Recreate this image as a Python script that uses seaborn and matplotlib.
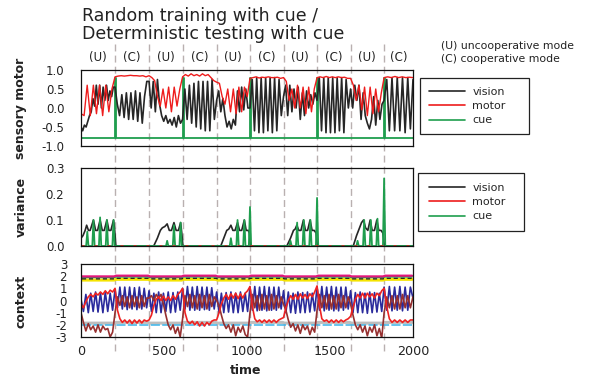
import numpy as np
import matplotlib
matplotlib.use("Agg")
import matplotlib.pyplot as plt
import matplotlib.transforms as mtransforms
from matplotlib.lines import Line2D
from matplotlib.patches import Rectangle
import seaborn as sns

# ------------------------------------------------------------------ data
seg_edges = [0, 205, 410, 612, 817, 1018, 1220, 1422, 1624, 1826, 2000]
seg_modes = ["U", "C", "U", "C", "U", "C", "U", "C", "U", "C"]

# sensory-motor panel: values read at evenly spaced knots inside each segment
vision_segs = [
    [-0.5, -0.6, -0.45, -0.5, -0.35, -0.2, -0.1, 0.25, 0.05, 0.6, 0.1, 0.6, 0.0, 0.55, 0.2, 0.6, 0.2, 0.45, 0.3, 0.55],
    [0.55, 0.1, -0.2, 0.35, -0.25, 0.4, -0.3, 0.4, -0.3, 0.45, -0.35, 0.4, -0.4, 0.3, 0.7],
    [0.7, 0.0, 0.7, -0.1, 0.75, 0.1, -0.2, -0.35, -0.2, -0.4, -0.3, -0.45, -0.25, -0.5, -0.2, -0.4],
    [-0.3, 0.5, -0.3, 0.6, -0.4, 0.65, -0.5, 0.7, -0.55, 0.7, -0.6, 0.7, -0.6, 0.75, -0.3],
    [0.2, 0.45, -0.1, 0.25, -0.2, -0.5, -0.35, -0.55, -0.3, -0.45, 0.45, -0.1, 0.55, -0.05, 0.5, 0.0],
    [0.0, 0.75, -0.6, 0.8, -0.65, 0.8, -0.65, 0.8, -0.6, 0.8, -0.65, 0.8, -0.6, 0.75, -0.2],
    [0.3, 0.6, -0.2, 0.6, -0.1, 0.5, 0.0, 0.55, -0.3, 0.4, -0.2, 0.45, 0.0, 0.35, 0.1, 0.4],
    [0.2, 0.8, -0.6, 0.8, -0.65, 0.8, -0.65, 0.8, -0.65, 0.8, -0.6, 0.8, -0.65, 0.75, 0.0],
    [0.5, 0.0, 0.6, 0.2, 0.6, -0.3, 0.4, -0.2, -0.4, -0.55, -0.3, 0.3, -0.45, 0.2, -0.3, 0.1],
    [0.2, 0.75, -0.6, 0.8, -0.6, 0.8, -0.6, 0.8, -0.65, 0.8, -0.55, 0.75],
]
motor_segs = [
    [-0.15, -0.2, 0.6, -0.2, 0.6, -0.15, 0.6, -0.2, 0.6, -0.1, 0.5],
    [0.82, 0.84, 0.85, 0.84, 0.85, 0.86, 0.85, 0.85, 0.84, 0.85, 0.82],
    [0.85, 0.8, 0.72, 0.3, 0.05, 0.5, 0.0, 0.55, -0.1, 0.55, 0.05, 0.5],
    [0.82, 0.88, 0.84, 0.9, 0.85, 0.88, 0.84, 0.9, 0.85, 0.88, 0.8, 0.72],
    [0.68, 0.65, 0.3, 0.1, 0.5, -0.1, 0.5, -0.15, 0.55, -0.1, 0.55, 0.3],
    [0.78, 0.8, 0.82, 0.79, 0.81, 0.8, 0.82, 0.8, 0.8, 0.81, 0.78],
    [0.8, 0.7, 0.2, 0.5, 0.0, 0.6, 0.0, 0.55, -0.15, 0.55, -0.1, 0.5],
    [0.8, 0.82, 0.8, 0.83, 0.8, 0.82, 0.8, 0.82, 0.8, 0.81, 0.78],
    [0.78, 0.6, 0.2, 0.6, -0.05, 0.55, -0.2, 0.55, -0.15, 0.5, -0.1, 0.4],
    [0.8, 0.82, 0.8, 0.83, 0.8, 0.82, 0.8, 0.81, 0.8],
]
cue_low, cue_high = -0.8, 0.8
cue_pulse_start = [205, 612, 1018, 1422, 1826]
cue_pulse_len = 8

# variance panel
var_vision_t = [0, 12, 25, 34, 45, 55, 75, 88, 100, 115, 128, 140, 156, 168, 180, 196, 203, 210,
                438, 460, 478, 490, 505, 519, 532, 545, 560, 573, 587, 600, 607, 614,
                842, 860, 878, 890, 903, 915, 928, 943, 955, 968, 984, 995, 1008, 1014, 1020,
                1240, 1262, 1280, 1290, 1300, 1312, 1325, 1340, 1352, 1365, 1380, 1392, 1405, 1416, 1424,
                1640, 1660, 1678, 1690, 1702, 1714, 1728, 1742, 1754, 1768, 1782, 1794, 1808, 1818, 1828, 2000]
var_vision_v = [0.03, 0.04, 0.06, 0.08, 0.06, 0.06, 0.1, 0.06, 0.06, 0.1, 0.06, 0.06, 0.1, 0.06, 0.06, 0.1, 0.06, 0.0,
                0.0, 0.03, 0.06, 0.07, 0.075, 0.085, 0.06, 0.06, 0.09, 0.06, 0.06, 0.09, 0.05, 0.0,
                0.0, 0.03, 0.06, 0.065, 0.08, 0.06, 0.06, 0.09, 0.06, 0.06, 0.1, 0.06, 0.06, 0.05, 0.0,
                0.0, 0.03, 0.06, 0.065, 0.08, 0.06, 0.06, 0.1, 0.06, 0.06, 0.1, 0.06, 0.06, 0.05, 0.0,
                0.0, 0.04, 0.07, 0.09, 0.1, 0.07, 0.06, 0.1, 0.06, 0.06, 0.1, 0.06, 0.06, 0.05, 0.0, 0.0]
var_cue_peak_t = [38, 75, 115, 156, 196, 519, 560, 600, 903, 943, 984, 1018,
                  1262, 1302, 1342, 1382, 1422, 1666, 1706, 1746, 1786, 1826]
var_cue_peak_v = [0.055, 0.1, 0.11, 0.1, 0.1, 0.02, 0.08, 0.09, 0.03, 0.1, 0.1, 0.15,
                  0.02, 0.09, 0.1, 0.1, 0.185, 0.02, 0.1, 0.1, 0.105, 0.26]
var_cue_halfwidth = 7
var_motor_t = [0, 2000]
var_motor_v = [0.0, 0.0]

# context panel
ctx_blue_segs = [
    [0.1, -0.9, 0.5, -1.0, 0.6, -0.9, 0.7, -0.95, 0.65, -1.0, 0.7, -0.9, 0.6, -0.8],
    [0.9, -0.6, 1.1, -0.7, 1.1, -0.75, 1.1, -0.7, 1.05, -0.75, 1.1, -0.7, 1.0, -0.6],
    [0.8, -0.9, 0.6, -1.0, 0.7, -1.0, 0.6, -0.9, 0.7, -1.0, 0.65, -0.95, 0.7, -0.8],
    [1.0, -0.7, 1.15, -0.8, 1.1, -0.8, 1.15, -0.8, 1.1, -0.75, 1.1, -0.8, 1.05, -0.7],
    [0.7, -1.0, 0.6, -1.0, 0.65, -0.95, 0.7, -1.0, 0.6, -1.0, 0.7, -0.9, 0.6, -0.9],
    [1.1, -0.8, 1.15, -0.85, 1.1, -0.8, 1.15, -0.85, 1.1, -0.8, 1.1, -0.8, 1.1, -0.7],
    [0.8, -1.0, 0.7, -1.0, 0.6, -1.05, 0.7, -1.0, 0.65, -1.0, 0.7, -0.95, 0.6, -0.85],
    [1.1, -0.8, 1.15, -0.85, 1.1, -0.8, 1.15, -0.85, 1.1, -0.85, 1.1, -0.8, 1.1, -0.7],
    [0.8, -1.0, 0.65, -1.0, 0.7, -1.0, 0.6, -1.05, 0.7, -1.0, 0.65, -0.95, 0.6, -0.9],
    [1.1, -0.8, 1.15, -0.85, 1.1, -0.8, 1.15, -0.85, 1.1, -0.8, 1.1, 0.2],
]
ctx_red_segs = [
    [-0.3, -0.6, -0.1, 0.3, 0.5, 0.3, 0.6, 0.45, 0.7, 0.5, 0.8, 0.55, 0.85, 0.7],
    [1.0, -0.8, -1.5, -1.8, -1.6, -1.85, -1.6, -1.9, -1.6, -1.85, -1.6, -1.85, -1.6, -1.7],
    [-1.6, -1.2, -0.4, 0.1, 0.3, 0.0, 0.35, 0.0, 0.3, 0.0, 0.4, 0.1, 0.5, 0.7],
    [1.0, -1.0, -1.7, -1.9, -1.7, -2.0, -1.75, -2.1, -1.8, -2.1, -1.8, -2.0, -1.7, -1.6],
    [-1.6, -1.0, -0.3, 0.2, 0.5, 0.1, 0.55, 0.2, 0.6, 0.15, 0.55, 0.2, 0.6, 0.8],
    [1.15, -0.5, -1.5, -1.75, -1.6, -1.8, -1.6, -1.8, -1.6, -1.8, -1.6, -1.8, -1.6, -1.5],
    [-1.4, -0.6, 0.0, 0.4, 0.1, 0.5, 0.1, 0.55, 0.2, 0.5, 0.15, 0.55, 0.3, 0.7],
    [1.2, -0.4, -1.5, -1.7, -1.6, -1.8, -1.6, -1.8, -1.6, -1.8, -1.6, -1.75, -1.6, -1.5],
    [-1.3, -0.6, 0.1, 0.5, 0.2, 0.6, 0.2, 0.6, 0.3, 0.55, 0.2, 0.6, 0.4, 0.8],
    [1.0, -0.5, -1.5, -1.8, -1.6, -1.8, -1.6, -1.8, -1.6, -1.8, -1.6, -1.6],
]
ctx_brown_segs = [
    [-1.0, -1.8, -2.5, -1.9, -2.4, -2.1, -2.6, -2.0, -2.6, -2.1, -2.4, -2.3, -3.0, -2.6],
    [-1.0, 0.3, -0.4, 0.4, -0.5, 0.3, -0.6, 0.4, -0.5, 0.3, -0.6, 0.4, -0.5, 0.2],
    [0.2, 0.4, 0.0, 0.5, 0.2, 0.5, -0.3, -1.2, -2.0, -2.4, -2.0, -2.7, -2.2, -3.0],
    [-1.5, 0.4, -0.5, 0.5, -0.6, 0.4, -0.7, 0.5, -0.6, 0.4, -0.7, 0.5, -0.5, 0.3],
    [0.0, -0.4, -1.2, -1.9, -2.3, -2.0, -2.6, -2.0, -2.9, -2.2, -2.6, -2.1, -2.8, -3.0],
    [-1.0, 0.5, -0.6, 0.4, -0.8, 0.5, -0.7, 0.4, -0.8, 0.5, -0.7, 0.4, -0.6, 0.3],
    [-0.3, -0.8, -1.6, -2.2, -1.9, -2.5, -2.0, -2.7, -2.0, -2.4, -2.1, -2.8, -2.2, -2.6],
    [-0.8, 0.5, -0.6, 0.4, -0.7, 0.5, -0.7, 0.4, -0.7, 0.5, -0.6, 0.4, -0.6, 0.3],
    [-0.3, -1.2, -2.0, -2.4, -2.0, -2.6, -2.1, -2.9, -2.2, -2.6, -2.0, -2.9, -2.3, -3.1],
    [-1.0, 0.3, -0.6, 0.4, -0.7, 0.4, -0.7, 0.5, -0.6, 0.4, -0.6, 0.3],
]
# near-constant context units: level per mode
ctx_level_U = {"magenta": 1.98, "green": 1.9, "black": 1.78, "yellow": 1.68, "gray": -1.86, "cyan": -2.02}
ctx_level_C = {"magenta": 2.04, "green": 1.95, "black": 1.83, "yellow": 1.74, "gray": -1.8, "cyan": -2.02}

x_major = [0, 500, 1000, 1500, 2000]

# ------------------------------------------------------------------ helpers
def seg_series(segs):
    ts, vs = [], []
    n = len(segs)
    for i, vals in enumerate(segs):
        t = np.linspace(seg_edges[i], seg_edges[i + 1], len(vals), endpoint=(i == n - 1))
        ts.extend(t)
        vs.extend(vals)
    return np.array(ts), np.array(vs, dtype=float)


def level_series(name):
    ts, vs = [], []
    for i, m in enumerate(seg_modes):
        lev = (ctx_level_U if m == "U" else ctx_level_C)[name]
        ts += [seg_edges[i] + 6, seg_edges[i + 1] - 6]
        vs += [lev, lev]
    return np.array(ts, float), np.array(vs, float)


def line(ax, x, y, **kw):
    sns.lineplot(x=x, y=y, ax=ax, sort=False, estimator=None, legend=False, **kw)

# ------------------------------------------------------------------ style
sns.set_style("white")
plt.rcParams["font.family"] = ["DejaVu Sans"]
plt.rcParams["axes.unicode_minus"] = False

W, H = 594, 376
fig = plt.figure(figsize=(W / 100, H / 100), dpi=100)


def px_axes(l, t, r, b):
    return fig.add_axes([l / W, 1 - b / H, (r - l) / W, (b - t) / H])

ax1 = px_axes(81, 70, 413, 146)
ax2 = px_axes(81, 168, 413, 246)
ax3 = px_axes(81, 264, 413, 337)

c_vision = "#262626"
c_motor = "#ee1c1c"
c_cue = "#1f9e4e"

# --- sensory motor
vt, vv = seg_series(vision_segs)
mt, mv = seg_series(motor_segs)
ct, cv = [0.0], [cue_low]
for p in cue_pulse_start:
    ct += [p, p, p + cue_pulse_len, p + cue_pulse_len]
    cv += [cue_low, cue_high, cue_high, cue_low]
ct.append(2000.0)
cv.append(cue_low)
line(ax1, np.array(ct), np.array(cv), color=c_cue, lw=1.3)
line(ax1, vt, vv, color=c_vision, lw=1.2)
line(ax1, mt, mv, color=c_motor, lw=1.0)
ax1.set_ylim(-1.0, 1.0)
ax1.set_yticks([-1.0, -0.5, 0.0, 0.5, 1.0])
ax1.set_yticklabels(["-1.0", "-0.5", "0.0", "0.5", "1.0"])

# --- variance
gt, gv = [0.0], [0.0]
for c, h in zip(var_cue_peak_t, var_cue_peak_v):
    gt += [c - var_cue_halfwidth, c, c + var_cue_halfwidth]
    gv += [0.0, h, 0.0]
gt.append(2000.0)
gv.append(0.0)
line(ax2, np.array(var_vision_t, float), np.array(var_vision_v), color=c_vision, lw=1.2)
line(ax2, np.array(gt), np.array(gv), color=c_cue, lw=1.3)
line(ax2, np.array(var_motor_t, float), np.array(var_motor_v), color=c_motor, lw=1.8,
     linestyle=(0, (1.2, 4)))
ax2.set_ylim(0.0, 0.3)
ax2.set_yticks([0.0, 0.1, 0.2, 0.3])
ax2.set_yticklabels(["0.0", "0.1", "0.2", "0.3"])

# --- context
for name, col, lw, ls in [("gray", "#bdbdbd", 2.2, "-"), ("cyan", "#3ab4ea", 1.1, (0, (6, 1.5))),
                          ("yellow", "#f5e400", 2.2, "-"), ("black", "#202020", 1.0, (0, (3, 2))),
                          ("green", "#1f9050", 1.2, "-"), ("magenta", "#e3167d", 1.6, "-")]:
    lt, lv = level_series(name)
    line(ax3, lt, lv, color=col, lw=lw, linestyle=ls)
bt, bv = seg_series(ctx_blue_segs)
line(ax3, bt, bv, color="#2a2a9c", lw=1.2)
brt, brv = seg_series(ctx_brown_segs)
line(ax3, brt, brv, color="#963030", lw=1.2)
rt, rv = seg_series(ctx_red_segs)
line(ax3, rt, rv, color="#ee2222", lw=1.2)
ax3.set_ylim(-3, 3)
ax3.set_yticks([-3, -2, -1, 0, 1, 2, 3])

for ax in (ax1, ax2, ax3):
    ax.set_xlim(0, 2000)
    ax.set_xlabel("")
    ax.set_ylabel("")
    ax.set_xticks(x_major)
    ax.set_xticks(np.arange(0, 2001, 100), minor=True)
    ax.tick_params(axis="x", which="both", direction="in", length=3, width=0.9,
                   colors="#222222", labelsize=9.2, pad=6, top=False)
    ax.tick_params(axis="y", length=0, labelsize=8.5, pad=12, colors="#222222")
    for s in ax.spines.values():
        s.set_color("#111111")
        s.set_linewidth(0.9)
    ax.patch.set_alpha(0.0)
ax1.tick_params(axis="x", labelbottom=False)
ax2.tick_params(axis="x", labelbottom=False)
ax3.tick_params(axis="y", pad=10)

# boundary dashed lines across all panels (behind the data)
trans = mtransforms.blended_transform_factory(ax3.transData, fig.transFigure)
for e in seg_edges[1:-1]:
    fig.add_artist(Line2D([e, e], [1 - 44 / H, 1 - 353 / H], transform=trans,
                          color="#b9b0b0", lw=1.0, linestyle=(0, (5, 3)), zorder=-1))

# mode labels
trans_lab = mtransforms.blended_transform_factory(ax1.transData, fig.transFigure)
for i, m in enumerate(seg_modes):
    fig.text((seg_edges[i] + seg_edges[i + 1]) / 2, 1 - 58 / H, "(%s)" % m,
             transform=trans_lab, ha="center", va="center", fontsize=8.5, color="#222222")

# title and notes
fig.text(82 / W, 1 - 16 / H, "Random training with cue /", fontsize=12.5, color="#222222",
         ha="left", va="center")
fig.text(82 / W, 1 - 34 / H, "Deterministic testing with cue", fontsize=12.5, color="#222222",
         ha="left", va="center")
fig.text(441 / W, 1 - 46 / H, "(U) uncooperative mode", fontsize=7.8, color="#222222",
         ha="left", va="center")
fig.text(441 / W, 1 - 59 / H, "(C) cooperative mode", fontsize=7.8, color="#222222",
         ha="left", va="center")

# axis labels
fig.text(21 / W, 1 - 108 / H, "sensory motor", rotation=90, fontsize=9, fontweight="bold",
         ha="center", va="center", color="#222222")
fig.text(21 / W, 1 - 207 / H, "variance", rotation=90, fontsize=9, fontweight="bold",
         ha="center", va="center", color="#222222")
fig.text(21 / W, 1 - 301 / H, "context", rotation=90, fontsize=9, fontweight="bold",
         ha="center", va="center", color="#222222")
fig.text(246 / W, 1 - 370 / H, "time", fontsize=9, fontweight="bold",
         ha="center", va="center", color="#222222")

# legends (frame drawn as separate box)
handles = [Line2D([], [], color=c_vision, lw=1.2), Line2D([], [], color=c_motor, lw=1.2),
           Line2D([], [], color=c_cue, lw=1.2)]
labels = ["vision", "motor", "cue"]
for (l, t, r, b, ytop) in [(420, 78, 529, 134, 87), (418, 173, 524, 231, 183)]:
    fig.add_artist(Rectangle((l / W, 1 - b / H), (r - l) / W, (b - t) / H,
                             transform=fig.transFigure, fill=False, edgecolor="#222222", lw=0.9))
    fig.legend(handles, labels, loc="upper left", bbox_to_anchor=(429 / W, 1 - ytop / H),
               frameon=False, fontsize=8, handlelength=3.2, handletextpad=0.7,
               labelspacing=0.38, borderpad=0, borderaxespad=0)

fig.savefig("out.png", dpi=100)
